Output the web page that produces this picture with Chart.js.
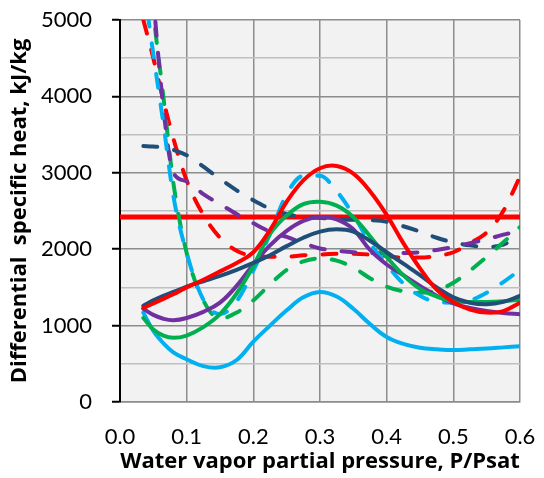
<!DOCTYPE html>
<html>
<head>
<meta charset="utf-8">
<script src="https://cdn.jsdelivr.net/npm/chart.js@4/dist/chart.umd.min.js"></script>
<style>
    body { margin: 0; background: white; }
</style>
</head>
<body>
<canvas id="heatChart" width="544" height="478"></canvas>
<script>
// P/Psat 값
var pressure = [0.035, 0.05, 0.065, 0.08, 0.1, 0.125, 0.15, 0.175, 0.2, 0.225, 0.25, 0.275, 0.3,
    0.325, 0.35, 0.375, 0.4, 0.425, 0.45, 0.475, 0.5, 0.525, 0.55, 0.575, 0.6];

// 실선
var redSolid = [1230, 1290, 1350, 1410, 1500, 1600, 1710, 1820, 1960, 2250, 2620, 2900, 3060,
    3090, 2990, 2760, 2450, 2080, 1750, 1470, 1310, 1210, 1170, 1190, 1300];
var navySolid = [1260, 1330, 1390, 1440, 1510, 1580, 1650, 1730, 1820, 1920, 2040, 2150, 2230,
    2260, 2230, 2110, 1960, 1810, 1660, 1500, 1370, 1300, 1280, 1310, 1390];
var greenSolid = [1100, 950, 870, 840, 870, 980, 1150, 1420, 1780, 2200, 2440, 2590, 2620,
    2570, 2420, 2170, 1900, 1660, 1480, 1380, 1320, 1310, 1310, 1320, 1340];
var purpleSolid = [1220, 1140, 1090, 1070, 1100, 1180, 1300, 1520, 1800, 2050, 2240, 2370, 2420,
    2390, 2260, 1990, 1800, 1660, 1520, 1390, 1290, 1230, 1190, 1165, 1150];
var blueSolid = [1170, 930, 770, 650, 560, 470, 455, 550, 790, 1000, 1200, 1370, 1440,
    1380, 1220, 1020, 850, 760, 710, 690, 680, 690, 700, 715, 730];

// 점선
var redDashed = [5000, 4500, 3950, 3450, 2900, 2450, 2150, 1980, 1910, 1900, 1900, 1920, 1930,
    1940, 1940, 1930, 1910, 1890, 1890, 1910, 1960, 2080, 2220, 2500, 2950];
var navyDashed = [3350, 3345, 3330, 3300, 3230, 3080, 2920, 2770, 2640, 2530, 2460, 2420, 2410,
    2390, 2385, 2380, 2360, 2300, 2230, 2150, 2090, 2050, 2030, 2060, 2180];
var greenDashed = [6500, 5100, 4000, 2870, 1950, 1330, 1090, 1170, 1330, 1540, 1730, 1840, 1880,
    1850, 1760, 1620, 1510, 1450, 1430, 1460, 1560, 1720, 1900, 2090, 2290];
var purpleDashed = [7000, 5300, 3850, 3000, 2890, 2720, 2590, 2460, 2340, 2230, 2160, 2080, 2010,
    1980, 1960, 1950, 1945, 1950, 1960, 1990, 2030, 2080, 2130, 2190, 2240];
var blueDashed = [5500, 4550, 3650, 2700, 1950, 1340, 1150, 1320, 1720, 2200, 2720, 2960, 2960,
    2760, 2450, 2080, 1800, 1550, 1390, 1310, 1300, 1330, 1430, 1570, 1730];

// 수평선 (잠열)
var latentX = [0, 0.6];
var latentY = [2420, 2420];

// 축 눈금
var xTicks = [0, 0.1, 0.2, 0.3, 0.4, 0.5, 0.6];
var yTicks = [0, 1000, 2000, 3000, 4000, 5000];

function toPoints(xs, ys) {
    return xs.map(function (x, i) { return { x: x, y: ys[i] }; });
}

function series(values, color, dashed, order) {
    return {
        data: toPoints(pressure, values),
        borderColor: color,
        backgroundColor: color,
        borderWidth: 4,
        borderDash: dashed ? [14, 17] : [],
        borderCapStyle: 'round',
        pointRadius: 0,
        tension: 0.4,
        cubicInterpolationMode: dashed ? 'monotone' : 'default',
        fill: false,
        order: order
    };
}

// 배경색 플러그인
var plotBg = {
    id: 'plotBg',
    beforeDraw: function (chart) {
        var a = chart.chartArea;
        var ctx = chart.ctx;
        ctx.save();
        ctx.fillStyle = '#f2f2f2';
        ctx.fillRect(a.left, a.top, a.right - a.left, a.bottom - a.top);
        ctx.restore();
    }
};

var tickFont = "Lato, 'Open Sans', sans-serif";
var titleFont = "'Open Sans', Lato, sans-serif";

var ctx = document.getElementById('heatChart').getContext('2d');
var myChart = new Chart(ctx, {
    type: 'line',
    data: {
        datasets: [
            series(redSolid, '#ff0000', false, 1),
            series(navySolid, '#1f4e79', false, 2),
            series(greenSolid, '#00b050', false, 3),
            series(purpleSolid, '#7030a0', false, 4),
            series(blueSolid, '#00b0f0', false, 5),
            series(blueDashed, '#00b0f0', true, 6),
            series(purpleDashed, '#7030a0', true, 7),
            series(greenDashed, '#00b050', true, 8),
            series(navyDashed, '#1f4e79', true, 9),
            series(redDashed, '#ff0000', true, 10),
            {
                data: toPoints(latentX, latentY),
                borderColor: '#ff0000',
                borderWidth: 5,
                pointRadius: 0,
                fill: false,
                order: 11
            }
        ]
    },
    options: {
        responsive: false,
        animation: false,
        layout: {
            padding: { top: 20, right: 24, left: 0, bottom: 0 }
        },
        plugins: {
            legend: { display: false },
            tooltip: { enabled: false }
        },
        scales: {
            x: {
                type: 'linear',
                min: 0,
                max: 0.6,
                afterFit: function (scale) {
                    scale.height = 76;
                    scale.paddingLeft = 0;
                    scale.paddingRight = 0;
                },
                afterBuildTicks: function (scale) {
                    scale.ticks = xTicks.map(function (v) { return { value: v }; });
                },
                ticks: {
                    padding: 22,
                    color: '#000',
                    font: { family: tickFont, size: 22 },
                    callback: function (v) { return Number(v).toFixed(1); }
                },
                grid: {
                    color: '#8c8c8c',
                    lineWidth: 1.5,
                    drawTicks: false
                },
                border: { color: '#8c8c8c', width: 1.5 },
                title: {
                    display: true,
                    text: 'Water vapor partial pressure, P/Psat',
                    color: '#000',
                    font: { family: titleFont, size: 22, weight: 'bold' },
                    padding: { top: 0, bottom: 3 }
                }
            },
            y: {
                min: 0,
                max: 5000,
                afterFit: function (scale) {
                    scale.width = 120;
                    scale.paddingTop = 0;
                    scale.paddingBottom = 0;
                },
                ticks: {
                    stepSize: 500,
                    autoSkip: false,
                    padding: 20,
                    color: '#000',
                    font: { family: tickFont, size: 22 },
                    callback: function (v) { return yTicks.indexOf(v) >= 0 ? v : ''; }
                },
                grid: {
                    color: function (c) {
                        return yTicks.indexOf(c.tick.value) >= 0 ? '#8c8c8c' : '#bfbfbf';
                    },
                    tickColor: function (c) {
                        return yTicks.indexOf(c.tick.value) >= 0 ? '#000' : 'rgba(0,0,0,0)';
                    },
                    lineWidth: 1.5,
                    tickLength: 8,
                    tickWidth: 2
                },
                border: { color: '#000', width: 2 },
                title: {
                    display: true,
                    text: 'Differential  specific heat, kJ/kg',
                    color: '#000',
                    font: { family: titleFont, size: 22, weight: 'bold' },
                    padding: { top: 7, bottom: 0 }
                }
            }
        }
    },
    plugins: [plotBg]
});
</script>
</body>
</html>
